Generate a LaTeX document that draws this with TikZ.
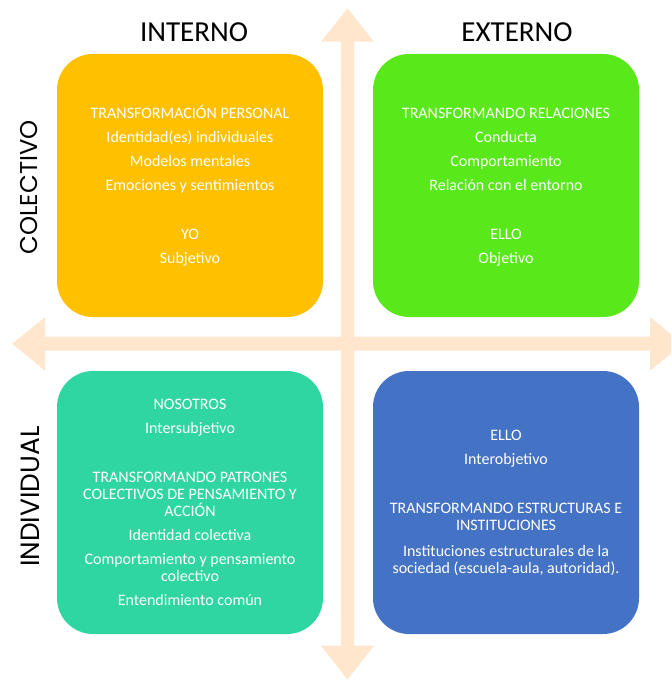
\documentclass[tikz,border=0pt]{standalone}
\usepackage{fontspec}
\setmainfont{Carlito}
\newfontfamily\sidefont{Poppins}
\definecolor{qorange}{RGB}{255,192,0}
\definecolor{qgreen}{RGB}{89,233,26}
\definecolor{qteal}{RGB}{48,214,162}
\definecolor{qblue}{RGB}{68,114,196}
\definecolor{axis}{RGB}{255,230,204}
\tikzset{
  quad/.style={rounded corners=27pt, minimum width=199.5pt, minimum height=197.25pt,
    inner sep=0pt, text=white, align=center, font=\fontsize{12}{12.75}\selectfont},
  header/.style={anchor=base, font=\fontsize{21.75}{24}\selectfont, text=black},
  side/.style={rotate=90, font=\sidefont\fontsize{19}{22}\selectfont, text=black, inner sep=0pt},
  axisfill/.style={fill=axis, draw=none}
}
\begin{document}
\begin{tikzpicture}[x=0.75pt,y=-0.75pt]
\useasboundingbox (0,0) rectangle (671,680);
\clip (0,0) rectangle (671,680);
% axes
\fill[axisfill] (341,41.7) -- (321,41.7) -- (347.5,8.3) -- (374,41.7) -- (354,41.7)
  -- (354,645.7) -- (374,645.7) -- (347.5,679.5) -- (321,645.7) -- (341,645.7) -- cycle;
\fill[axisfill] (45,336.7) -- (45,317.3) -- (12.3,343.7) -- (45,370.7) -- (45,350.7)
  -- (650,350.7) -- (650,370.7) -- (683,343.7) -- (650,317) -- (650,336.7) -- cycle;
% headers
\node[header] (interno) at (194,41.7) {INTERNO};
\node[header] (externo) at (517,41.7) {EXTERNO};
\node[side, font=\sidefont\fontsize{18.2}{22}\selectfont] (colectivo) at (29,187.4) {COLECTIVO};
\node[side, font=\sidefont\fontsize{19.8}{22}\selectfont] (individual) at (30,496.7) {INDIVIDUAL};
% quadrants
\node[quad, fill=qorange] (yo) at (190,185.5) {TRANSFORMACIÓN PERSONAL\\[5.25pt]
  Identidad(es) individuales\\[5.25pt]
  Modelos mentales\\[5.25pt]
  Emociones y sentimientos\\[24pt]
  YO\\[5.25pt]
  Subjetivo};
\node[quad, fill=qgreen] (ello) at (506,185.5) {TRANSFORMANDO RELACIONES\vphantom{Ó}\\[5.25pt]
  Conducta\\[5.25pt]
  Comportamiento\\[5.25pt]
  Relación con el entorno\\[24pt]
  ELLO\\[5.25pt]
  Objetivo};
\node[quad, fill=qteal] (nosotros) at (190,502.5) {NOSOTROS\\[5.25pt]
  Intersubjetivo\\[24pt]
  TRANSFORMANDO PATRONES\\
  COLECTIVOS DE PENSAMIENTO Y\\
  ACCIÓN\\[5.25pt]
  Identidad colectiva\\[5.25pt]
  Comportamiento y pensamiento\\
  colectivo\\[5.25pt]
  Entendimiento común};
\node[quad, fill=qblue] (ellos) at (506,502.5) {ELLO\\[5.25pt]
  Interobjetivo\\[24pt]
  TRANSFORMANDO ESTRUCTURAS E\\
  INSTITUCIONES\\[6.75pt]
  Instituciones estructurales de la\\
  sociedad (escuela-aula, autoridad).};
\end{tikzpicture}
\end{document}
